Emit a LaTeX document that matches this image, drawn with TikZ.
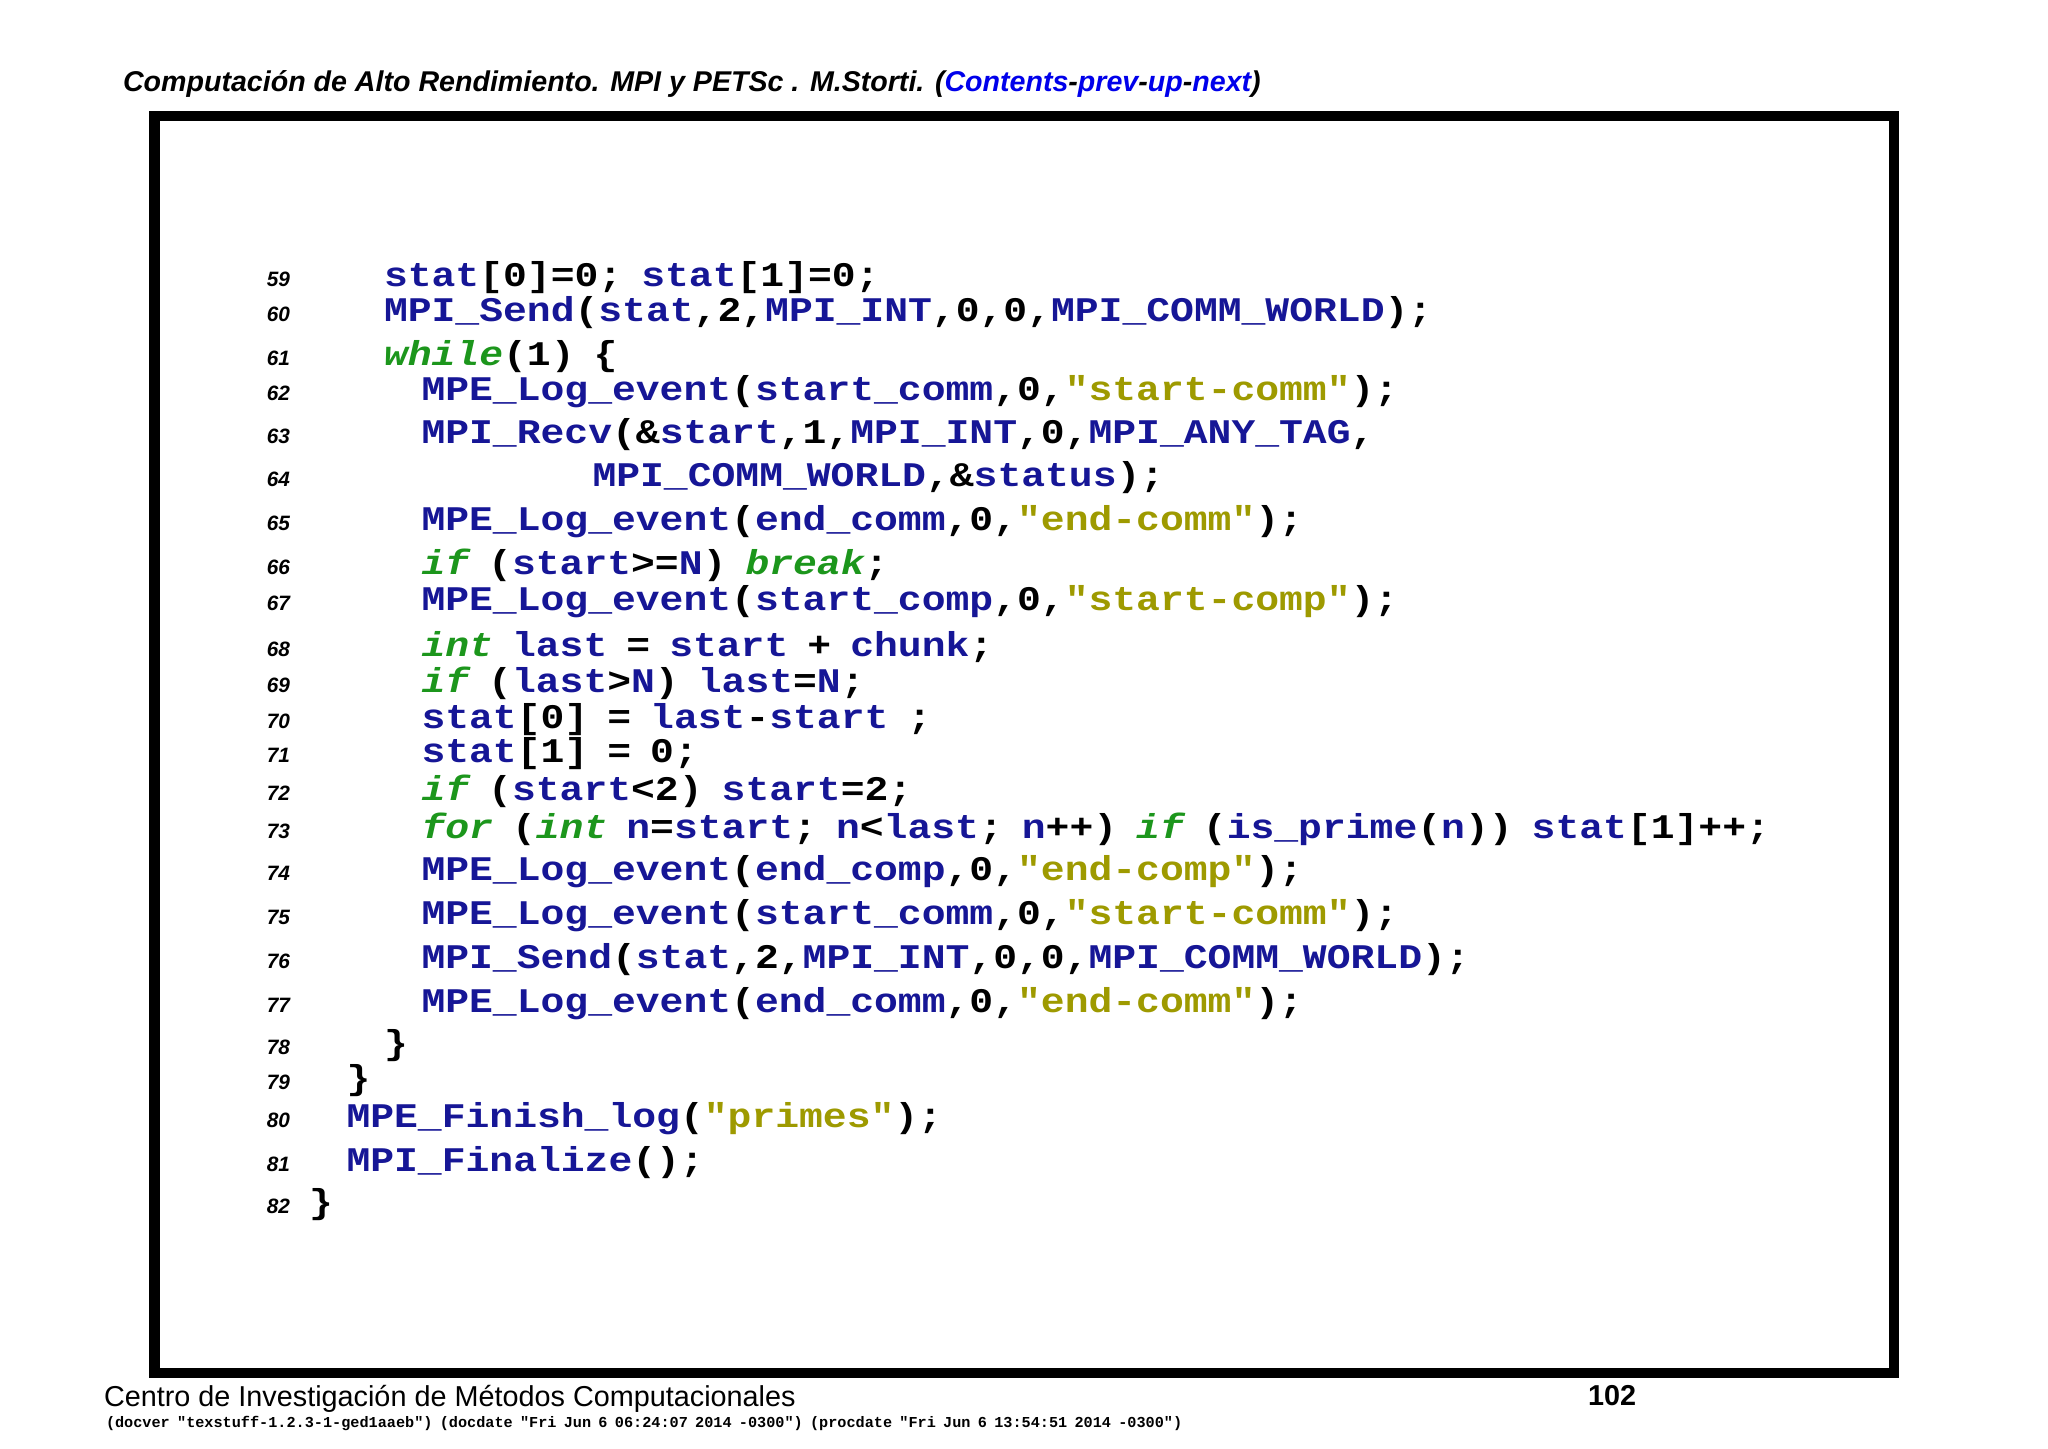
\documentclass[tikz,border=0pt]{standalone}
\usepackage{fontspec}
\usepackage{graphicx}
\setsansfont{Liberation Sans}
\setmonofont{Liberation Mono}[WordSpace=0.8]
\usepackage{xcolor}
\definecolor{idblue}{RGB}{22,22,150}
\definecolor{kwgreen}{RGB}{28,150,28}
\definecolor{strolive}{RGB}{158,154,0}
\definecolor{linkblue}{RGB}{0,0,235}
\newcommand\CId[1]{\textcolor{idblue}{#1}}
\newcommand\CKw[1]{\textcolor{kwgreen}{\itshape #1}}
\newcommand\CSt[1]{\textcolor{strolive}{#1}}
\newcommand\CLk[1]{\textcolor{linkblue}{#1}}
\newcommand\CLn[1]{\scalebox{1}[0.87]{#1}}
\begin{document}
\begin{tikzpicture}[x=0.5bp,y=-0.5bp,
  every node/.style={inner sep=0pt,outer sep=0pt},
  codeline/.style={anchor=base west,font=\ttfamily\bfseries\fontsize{19.85bp}{24bp}\selectfont},
  lnum/.style={anchor=base east,font=\sffamily\bfseries\itshape\fontsize{10.4bp}{12bp}\selectfont},
  hdr/.style={anchor=base west,font=\sffamily\bfseries\itshape\fontsize{14.3bp}{17bp}\selectfont},
  foot/.style={anchor=base west,font=\sffamily\fontsize{14.4bp}{17bp}\selectfont},
  footnum/.style={anchor=base west,font=\sffamily\bfseries\fontsize{14.4bp}{17bp}\selectfont},
  docver/.style={anchor=base west,font=\ttfamily\bfseries\fontsize{7.6bp}{9bp}\selectfont},
  framebox/.style={draw=black,line width=5.25bp}]
\useasboundingbox[fill=white] (0,0) rectangle (2048,1448);
% header
\node[hdr] (hdr) at (123,92) {Computación de Alto Rendimiento. MPI y PETSc . M.Storti. (\CLk{Contents}-\CLk{prev}-\CLk{up}-\CLk{next})};
% frame
\draw[framebox] (154.25,116.25) rectangle (1893.75,1372.75);
% line numbers
\foreach \n/\y in {59/286,60/321.5,61/365.5,62/400,63/443.5,64/486,65/530,66/574,67/610,68/656,69/692,70/728,71/762.5,72/800,73/838,74/880.5,75/924.5,76/968,77/1012,78/1054.5,79/1089,80/1127,81/1171,82/1213.5}
  \node[lnum] (n\n) at (290,\y) {\n};
% code
\node[codeline] (l59) at (384,286) {\CLn{\CId{stat}[0]=0; \CId{stat}[1]=0;}};
\node[codeline] (l60) at (384,321.5) {\CLn{\CId{MPI\_Send}(\CId{stat},2,\CId{MPI\_INT},0,0,\CId{MPI\_COMM\_WORLD});}};
\node[codeline] (l61) at (384,365.5) {\CLn{\CKw{while}(1) \{}};
\node[codeline] (l62) at (421.5,400) {\CLn{\CId{MPE\_Log\_event}(\CId{start\_comm},0,\CSt{"start-comm"});}};
\node[codeline] (l63) at (421.5,443.5) {\CLn{\CId{MPI\_Recv}(\&\CId{start},1,\CId{MPI\_INT},0,\CId{MPI\_ANY\_TAG},}};
\node[codeline] (l64) at (592.5,486) {\CLn{\CId{MPI\_COMM\_WORLD},\&\CId{status});}};
\node[codeline] (l65) at (421.5,530) {\CLn{\CId{MPE\_Log\_event}(\CId{end\_comm},0,\CSt{"end-comm"});}};
\node[codeline] (l66) at (421.5,574) {\CLn{\CKw{if} (\CId{start}>=\CId{N}) \CKw{break};}};
\node[codeline] (l67) at (421.5,610) {\CLn{\CId{MPE\_Log\_event}(\CId{start\_comp},0,\CSt{"start-comp"});}};
\node[codeline] (l68) at (421.5,656) {\CLn{\CKw{int} \CId{last} = \CId{start} + \CId{chunk};}};
\node[codeline] (l69) at (421.5,692) {\CLn{\CKw{if} (\CId{last}>\CId{N}) \CId{last}=\CId{N};}};
\node[codeline] (l70) at (421.5,728) {\CLn{\CId{stat}[0] = \CId{last}-\CId{start} ;}};
\node[codeline] (l71) at (421.5,762.5) {\CLn{\CId{stat}[1] = 0;}};
\node[codeline] (l72) at (421.5,800) {\CLn{\CKw{if} (\CId{start}<2) \CId{start}=2;}};
\node[codeline] (l73) at (421.5,838) {\CLn{\CKw{for} (\CKw{int} \CId{n}=\CId{start}; \CId{n}<\CId{last}; \CId{n}++) \CKw{if} (\CId{is\_prime}(\CId{n})) \CId{stat}[1]++;}};
\node[codeline] (l74) at (421.5,880.5) {\CLn{\CId{MPE\_Log\_event}(\CId{end\_comp},0,\CSt{"end-comp"});}};
\node[codeline] (l75) at (421.5,924.5) {\CLn{\CId{MPE\_Log\_event}(\CId{start\_comm},0,\CSt{"start-comm"});}};
\node[codeline] (l76) at (421.5,968) {\CLn{\CId{MPI\_Send}(\CId{stat},2,\CId{MPI\_INT},0,0,\CId{MPI\_COMM\_WORLD});}};
\node[codeline] (l77) at (421.5,1012) {\CLn{\CId{MPE\_Log\_event}(\CId{end\_comm},0,\CSt{"end-comm"});}};
\node[codeline] (l78) at (384,1054.5) {\CLn{\}}};
\node[codeline] (l79) at (346.5,1089) {\CLn{\}}};
\node[codeline] (l80) at (346.5,1127) {\CLn{\CId{MPE\_Finish\_log}(\CSt{"primes"});}};
\node[codeline] (l81) at (346.5,1171) {\CLn{\CId{MPI\_Finalize}();}};
\node[codeline] (l82) at (309,1213.5) {\CLn{\}}};
% footer
\node[foot] (ft) at (104,1406) {Centro de Investigación de Métodos Computacionales};
\node[footnum] (pg) at (1588,1405) {102};
\node[docver] (dv) at (106,1427) {(docver "texstuff-1.2.3-1-ged1aaeb") (docdate "Fri Jun 6 06:24:07 2014 -0300") (procdate "Fri Jun 6 13:54:51 2014 -0300")};
\end{tikzpicture}
\end{document}
